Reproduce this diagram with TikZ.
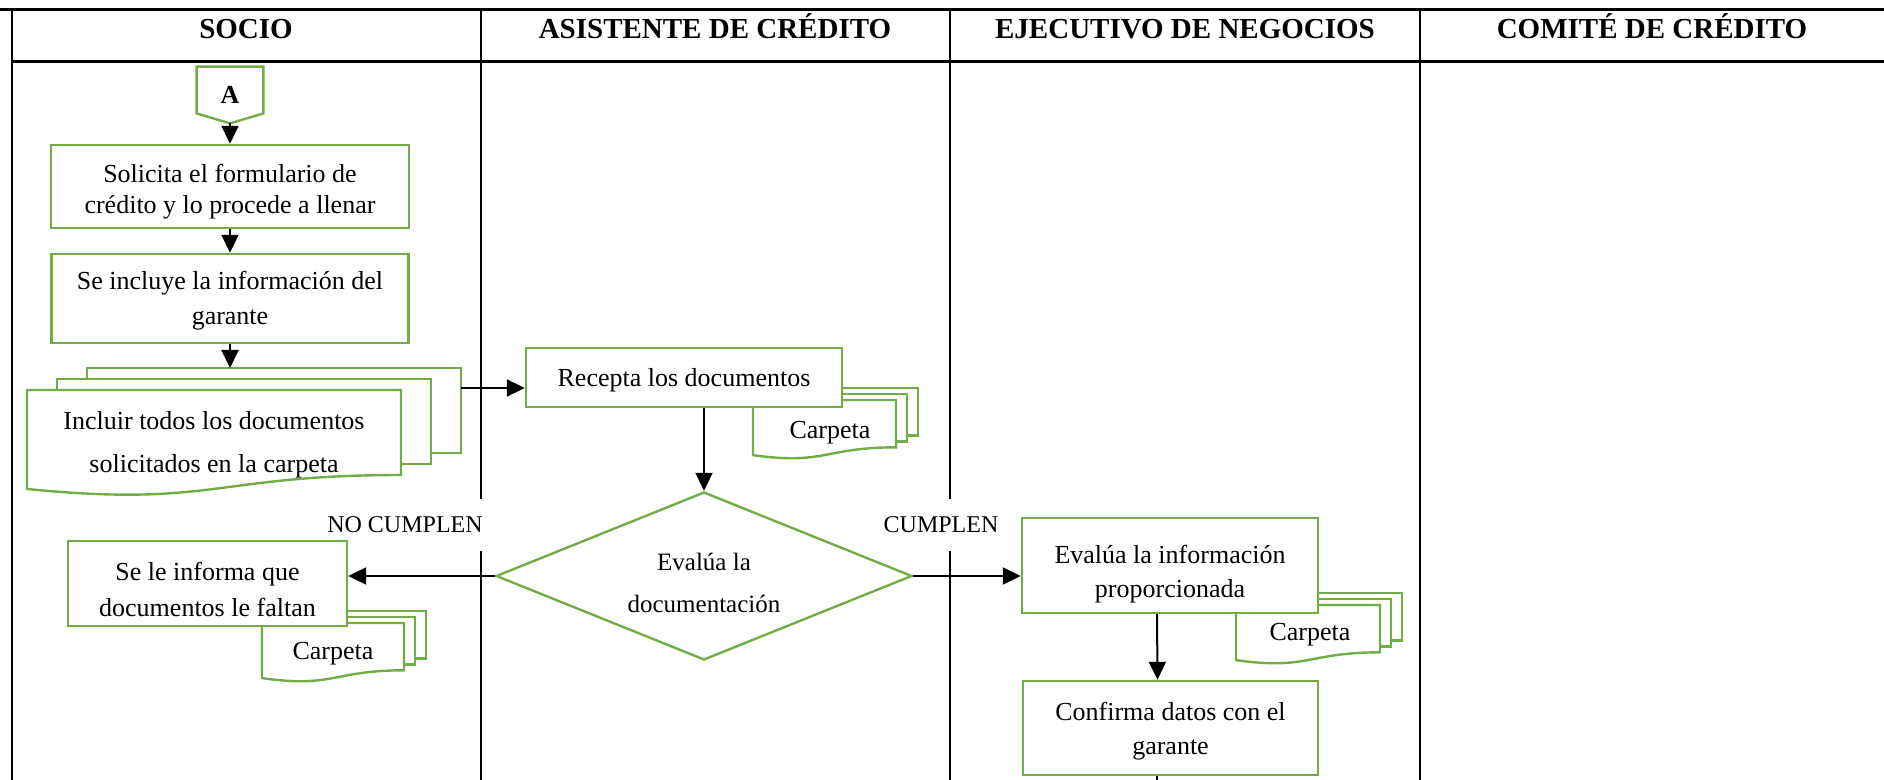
\documentclass[tikz,border=0pt]{standalone}
\usepackage{fontspec}
\setmainfont{Liberation Serif}
\usetikzlibrary{arrows.meta,shapes.geometric}
\definecolor{verde}{RGB}{112,173,71}
\begin{document}
\begin{tikzpicture}[x=0.5pt,y=-0.5pt,
  box/.style={draw=verde,line width=1.2pt,fill=white,align=center,inner sep=2pt,font=\fontsize{13}{15.5}\selectfont},
  page/.style={draw=verde,line width=1.2pt,fill=white},
  arr/.style={line width=1pt,-{Triangle[length=9pt,width=8.5pt]}},
  lbl/.style={fill=white,inner xsep=1pt,minimum height=26pt,font=\fontsize{12}{14}\selectfont},
  head/.style={anchor=base,font=\fontsize{14.5}{17}\selectfont\bfseries}]
\useasboundingbox (0,0) rectangle (1884,780);
\draw[line width=1.5pt] (0,10) -- (1884,10);
\draw[line width=1.5pt] (12,62) -- (1884,62);
\draw[line width=1pt] (12,10) -- (12,780);
\foreach \x in {481,950,1420} {
  \draw[line width=1pt] (\x,10) -- (\x,780);
}
\foreach \n/\x/\t in {socio/246/SOCIO, asis/715/ASISTENTE DE CRÉDITO, ejec/1185/EJECUTIVO DE NEGOCIOS, comite/1652/COMITÉ DE CRÉDITO} {
  \node[head] (\n) at (\x,39) {\t};
}
\node[lbl] (nocumplen) at (405,525) {NO CUMPLEN};
\node[lbl] (cumplen) at (941,525) {CUMPLEN};
% pages: left, right, top, height, offsets
\foreach \xa/\xb/\t/\h/\dx/\dy in {27/401/390/106/30/11, 753/896/400/59/11/6, 262/404/623/59/11/6, 1236/1380/605/59/11/6} {
  \draw[page] (\xa+2*\dx,\t-2*\dy) rectangle (\xb+2*\dx,\t+0.802*\h-2*\dy);
  \draw[page] (\xa+\dx,\t-\dy) rectangle (\xb+\dx,\t+0.802*\h-\dy);
  \draw[page] (\xa,\t) -- (\xb,\t) -- (\xb,\t+0.802*\h)
    .. controls ({(\xa+\xb)/2},\t+0.802*\h) and ({(\xa+\xb)/2},\t+1.108*\h) .. (\xa,\t+0.934*\h) -- cycle;
}
\node[align=center,font=\fontsize{13}{15.5}\selectfont] (incluir) at (214,445) {Incluir todos los documentos\\[6pt]solicitados en la carpeta};
\node[font=\fontsize{13}{15.5}\selectfont] (carpA) at (830,433) {Carpeta};
\node[font=\fontsize{13}{15.5}\selectfont] (carpB) at (333,654) {Carpeta};
\node[font=\fontsize{13}{15.5}\selectfont] (carpC) at (1310,635) {Carpeta};
\coordinate (stk) at (461,388);
\coordinate (stktop) at (230,368);
\coordinate (fin) at (1157,780);
% connector A
\node[minimum width=33pt,minimum height=28pt,inner sep=0pt,font=\fontsize{13}{15}\selectfont\bfseries] (A) at (230,95) {A};
\draw[draw=verde,line width=1.2pt] (A.north west) -- (A.north east) -- ([yshift=5pt]A.south east) -- (A.south) -- ([yshift=5pt]A.south west) -- cycle;
\node[box,minimum width=179pt,minimum height=41.5pt] (solicita) at (230,186.5) {\rule{0pt}{14.3pt}Solicita el formulario de\\crédito y lo procede a llenar};
\node[box,minimum width=178.5pt,minimum height=44.5pt] (incluye) at (230,298.5) {\rule{0pt}{11pt}Se incluye la información del\\[2pt]garante};
\node[box,minimum width=158pt,minimum height=29.5pt] (recepta) at (684,377.5) {\rule{0pt}{11.3pt}Recepta los documentos};
\node[box,minimum width=139.5pt,minimum height=42.5pt] (informa) at (207.5,583.5) {\rule{0pt}{15pt}Se le informa que\\[2.5pt]documentos le faltan};
\node[box,minimum width=148pt,minimum height=47.5pt] (evalua) at (1170,565.5) {\rule{0pt}{17.3pt}Evalúa la información\\[1.5pt]proporcionada};
\node[box,minimum width=147.5pt,minimum height=47pt] (confirma) at (1170.5,728) {\rule{0pt}{12.5pt}Confirma datos con el\\[1.5pt]garante};
\node[draw=verde,line width=1.2pt,fill=white,diamond,aspect=2.48,minimum width=208pt,minimum height=84pt,inner sep=0pt,align=center,font=\fontsize{12.5}{14.5}\selectfont] (dia) at (704,576) {\rule{0pt}{15.8pt}Evalúa la\\[6.5pt]documentación};
\draw[arr] (A) -- (solicita);
\draw[arr] (solicita) -- (incluye);
\draw[arr] (incluye) -- (stktop);
\draw[arr] (stk) -- (stk -| recepta.west);
\draw[arr] (recepta.south -| dia.north) -- (dia.north);
\draw[arr] (dia.west) -- (dia.west -| informa.east);
\draw[arr] (dia.east) -- (dia.east -| evalua.west);
\draw[arr] ([xshift=-6.5pt]evalua.south) -- ([xshift=-6.5pt]confirma.north);
\draw[line width=1pt] (confirma.south -| fin) -- (fin);
\end{tikzpicture}
\end{document}
